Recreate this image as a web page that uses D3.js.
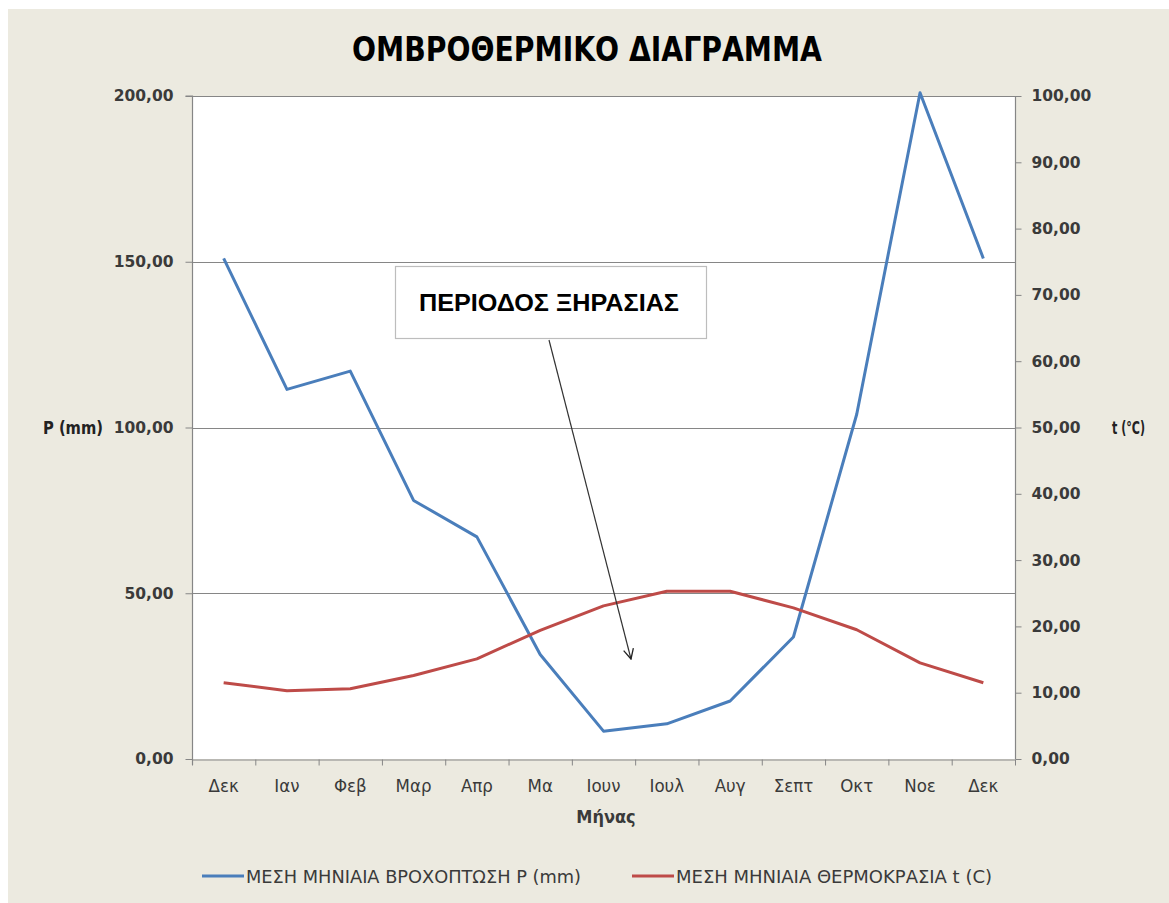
<!DOCTYPE html>
<html>
<head>
<meta charset="utf-8">
<script src="https://cdn.jsdelivr.net/npm/d3@7"></script>
<style>
  html, body { margin: 0; padding: 0; background: #ffffff; }
  svg { display: block; }
</style>
</head>
<body>
<svg id="chart" width="1169" height="903"></svg>
<script>
// Months along the x axis (December repeated at both ends)
const months = ["Δεκ", "Ιαν", "Φεβ", "Μαρ", "Απρ", "Μα", "Ιουν", "Ιουλ", "Αυγ", "Σεπτ", "Οκτ", "Νοε", "Δεκ"];
// Mean monthly precipitation P (mm) – left axis
const rain = [151, 111.5, 117, 78, 67, 31.5, 8.4, 10.6, 17.5, 36.8, 104, 201, 151];
// Mean monthly temperature t (°C) – right axis
const temp = [11.5, 10.3, 10.6, 12.6, 15.1, 19.4, 23.1, 25.3, 25.3, 22.8, 19.5, 14.5, 11.5];
// Axis ticks
const rainTicks = [0, 50, 100, 150, 200];
const tempTicks = [0, 10, 20, 30, 40, 50, 60, 70, 80, 90, 100];

const fmt = v => v.toFixed(2).replace(".", ",");

const svg = d3.select("#chart");
const W = 1169, H = 903;
const plot = { left: 192, right: 1015, top: 96, bottom: 759 };

const BLUE = "#4a7ebb", RED = "#be4b48", AXIS = "#868686", TXT = "#3a3a3a";
const NARROW = "'Liberation Sans Narrow', 'DejaVu Sans Condensed', 'Open Sans', sans-serif";

// Background panel
svg.append("rect").attr("x", 8).attr("y", 9).attr("width", W - 8).attr("height", H - 9)
  .attr("fill", "#eceae0");

// Plot area
svg.append("rect").attr("x", plot.left).attr("y", plot.top)
  .attr("width", plot.right - plot.left).attr("height", plot.bottom - plot.top)
  .attr("fill", "#ffffff");

const idx = months.map((m, i) => i);
const x = d3.scaleBand().domain(idx).range([plot.left, plot.right]).paddingInner(0).paddingOuter(0);
const yL = d3.scaleLinear().domain([0, 200]).range([plot.bottom, plot.top]);
const yR = d3.scaleLinear().domain([0, 100]).range([plot.bottom, plot.top]);
const cx = i => x(i) + x.bandwidth() / 2;

// Gridlines on the precipitation scale
svg.append("g").selectAll("line").data(rainTicks.filter(v => v > 0)).join("line")
  .attr("x1", plot.left).attr("x2", plot.right)
  .attr("y1", d => Math.round(yL(d)) + 0.5).attr("y2", d => Math.round(yL(d)) + 0.5)
  .attr("stroke", AXIS).attr("stroke-width", 1);

// Left axis
const gL = svg.append("g").attr("transform", `translate(${plot.left + 0.5},0)`)
  .call(d3.axisLeft(yL).tickValues(rainTicks).tickFormat(fmt).tickSize(7).tickPadding(12));
// Right axis
const gR = svg.append("g").attr("transform", `translate(${plot.right + 0.5},0)`)
  .call(d3.axisRight(yR).tickValues(tempTicks).tickFormat(fmt).tickSize(6).tickPadding(10));
// Bottom axis: ticks at category boundaries
const bottomTicks = idx.concat([months.length]);
const xb = d3.scaleLinear().domain([0, months.length]).range([plot.left, plot.right]);
const gB = svg.append("g").attr("transform", `translate(0,${plot.bottom + 0.5})`)
  .call(d3.axisBottom(xb).tickValues(bottomTicks).tickFormat("").tickSize(6).tickSizeOuter(0));

[gL, gR, gB].forEach(g => {
  g.select(".domain").attr("stroke", AXIS).attr("stroke-width", 1.2);
  g.selectAll(".tick line").attr("stroke", AXIS);
});
gL.select(".domain").attr("d", `M-7,${plot.top}H0V${plot.bottom + 6}`);
gR.select(".domain").attr("d", `M0,${plot.top}V${plot.bottom}`);
[gL, gR].forEach(g => g.selectAll(".tick text")
  .attr("font-family", "'DejaVu Sans', Verdana, sans-serif")
  .attr("font-weight", "bold").attr("font-size", 15.5).attr("fill", TXT));

// Month labels
svg.append("g").selectAll("text").data(idx).join("text")
  .attr("x", d => cx(d)).attr("y", 792)
  .attr("text-anchor", "middle")
  .attr("font-family", NARROW).attr("font-size", 18.5).attr("fill", TXT)
  .text(d => months[d]);

// Axis titles
svg.append("text").attr("x", 606).attr("y", 823).attr("text-anchor", "middle")
  .attr("font-family", NARROW).attr("font-size", 18).attr("font-weight", "bold").attr("fill", TXT)
  .text("Μήνας");
svg.append("text").attr("x", 43).attr("y", 434).attr("textLength", 60).attr("lengthAdjust", "spacingAndGlyphs")
  .attr("font-family", NARROW).attr("font-size", 17).attr("font-weight", "bold").attr("fill", "#222")
  .text("P (mm)");
svg.append("text").attr("x", 1112).attr("y", 434).attr("textLength", 33).attr("lengthAdjust", "spacingAndGlyphs")
  .attr("font-family", NARROW).attr("font-size", 17).attr("font-weight", "bold").attr("fill", "#222")
  .text("t (°C)");

// Title
svg.append("text").attr("x", 587).attr("y", 61).attr("text-anchor", "middle")
  .attr("textLength", 470).attr("lengthAdjust", "spacingAndGlyphs")
  .attr("font-family", NARROW).attr("font-size", 34).attr("font-weight", "bold").attr("fill", "#000")
  .text("ΟΜΒΡΟΘΕΡΜΙΚΟ ΔΙΑΓΡΑΜΜΑ");

// Series lines
const lineRain = d3.line().x((d, i) => cx(i)).y(d => yL(d));
const lineTemp = d3.line().x((d, i) => cx(i)).y(d => yR(d));
svg.append("path").datum(rain).attr("d", lineRain)
  .attr("fill", "none").attr("stroke", BLUE).attr("stroke-width", 3).attr("stroke-linejoin", "round");
svg.append("path").datum(temp).attr("d", lineTemp)
  .attr("fill", "none").attr("stroke", RED).attr("stroke-width", 3).attr("stroke-linejoin", "round");

// Dry-period callout
svg.append("defs").append("marker").attr("id", "arrowOpen")
  .attr("viewBox", "0 0 12 12").attr("refX", 11).attr("refY", 6)
  .attr("markerWidth", 12).attr("markerHeight", 12).attr("markerUnits", "userSpaceOnUse")
  .attr("orient", "auto")
  .append("path").attr("d", "M1,1L11,6L1,11").attr("fill", "none").attr("stroke", "#222").attr("stroke-width", 1.3);
svg.append("line").attr("x1", 549).attr("y1", 340).attr("x2", 631).attr("y2", 659)
  .attr("stroke", "#333").attr("stroke-width", 1.2).attr("marker-end", "url(#arrowOpen)");
svg.append("rect").attr("x", 395.5).attr("y", 266.5).attr("width", 311).attr("height", 72)
  .attr("fill", "#ffffff").attr("stroke", "#bdbdbd").attr("stroke-width", 1.2);
svg.append("text").attr("x", 549).attr("y", 311).attr("text-anchor", "middle")
  .attr("textLength", 260).attr("lengthAdjust", "spacingAndGlyphs")
  .attr("font-family", "'Liberation Sans', Arial, sans-serif").attr("font-size", 24)
  .attr("font-weight", "bold").attr("fill", "#000")
  .text("ΠΕΡΙΟΔΟΣ ΞΗΡΑΣΙΑΣ");

// Legend
const legend = [
  { color: BLUE, label: "ΜΕΣΗ ΜΗΝΙΑΙΑ ΒΡΟΧΟΠΤΩΣΗ P (mm)", x: 202, w: 335 },
  { color: RED, label: "ΜΕΣΗ ΜΗΝΙΑΙΑ ΘΕΡΜΟΚΡΑΣΙΑ t (C)", x: 632, w: 316 }
];
const lg = svg.append("g").selectAll("g").data(legend).join("g")
  .attr("transform", d => `translate(${d.x},876)`);
lg.append("line").attr("x1", 0).attr("x2", 42).attr("y1", 0).attr("y2", 0)
  .attr("stroke", d => d.color).attr("stroke-width", 3);
lg.append("text").attr("x", 44).attr("y", 6.5).attr("textLength", d => d.w).attr("lengthAdjust", "spacingAndGlyphs")
  .attr("font-family", NARROW).attr("font-size", 18).attr("fill", TXT)
  .text(d => d.label);
</script>
</body>
</html>
